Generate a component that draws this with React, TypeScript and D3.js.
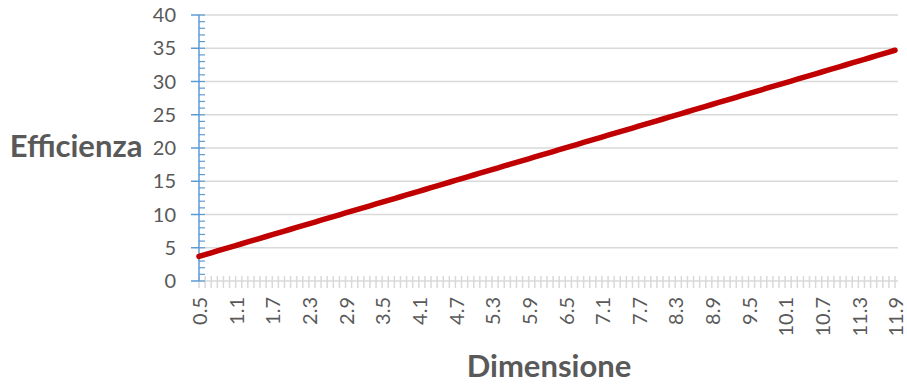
import React from "react";
import * as d3 from "d3";

const categories: string[] = [
  "0.5","0.6","0.7","0.8","0.9","1.0","1.1","1.2","1.3","1.4","1.5","1.6","1.7","1.8","1.9","2.0",
  "2.1","2.2","2.3","2.4","2.5","2.6","2.7","2.8","2.9","3.0","3.1","3.2","3.3","3.4","3.5","3.6",
  "3.7","3.8","3.9","4.0","4.1","4.2","4.3","4.4","4.5","4.6","4.7","4.8","4.9","5.0","5.1","5.2",
  "5.3","5.4","5.5","5.6","5.7","5.8","5.9","6.0","6.1","6.2","6.3","6.4","6.5","6.6","6.7","6.8",
  "6.9","7.0","7.1","7.2","7.3","7.4","7.5","7.6","7.7","7.8","7.9","8.0","8.1","8.2","8.3","8.4",
  "8.5","8.6","8.7","8.8","8.9","9.0","9.1","9.2","9.3","9.4","9.5","9.6","9.7","9.8","9.9","10.0",
  "10.1","10.2","10.3","10.4","10.5","10.6","10.7","10.8","10.9","11.0","11.1","11.2","11.3","11.4",
  "11.5","11.6","11.7","11.8","11.9"
];

const efficienza: number[] = [
  3.70,3.97,4.24,4.52,4.79,5.06,5.33,5.60,5.88,6.15,6.42,6.69,6.96,7.23,7.51,7.78,
  8.05,8.32,8.59,8.87,9.14,9.41,9.68,9.95,10.23,10.50,10.77,11.04,11.31,11.59,11.86,12.13,
  12.40,12.67,12.94,13.22,13.49,13.76,14.03,14.30,14.58,14.85,15.12,15.39,15.66,15.94,16.21,16.48,
  16.75,17.02,17.30,17.57,17.84,18.11,18.38,18.65,18.93,19.20,19.47,19.74,20.01,20.29,20.56,20.83,
  21.10,21.37,21.65,21.92,22.19,22.46,22.73,23.00,23.28,23.55,23.82,24.09,24.36,24.64,24.91,25.18,
  25.45,25.72,26.00,26.27,26.54,26.81,27.08,27.35,27.63,27.90,28.17,28.44,28.71,28.99,29.26,29.53,
  29.80,30.07,30.35,30.62,30.89,31.16,31.43,31.71,31.98,32.25,32.52,32.79,33.06,33.34,
  33.61,33.88,34.15,34.42,34.70
];

const xTickLabels: string[] = [
  "0.5","1.1","1.7","2.3","2.9","3.5","4.1","4.7","5.3","5.9","6.5","7.1","7.7","8.3","8.9","9.5",
  "10.1","10.7","11.3","11.9"
];

const yTicks: number[] = [0, 5, 10, 15, 20, 25, 30, 35, 40];
const yMinorTicks: number[] = d3.range(0, 41, 1);

const W = 907;
const H = 386;
const FONT = "Lato, 'Open Sans', sans-serif";

export default function App() {
  const x = d3.scalePoint<string>().domain(categories).range([199, 895]);
  const y = d3.scaleLinear().domain([0, 40]).range([281, 15]);
  const line = d3
    .line<number>()
    .x((_, i) => x(categories[i]) as number)
    .y((d) => y(d));

  return (
    <svg
      width={W}
      height={H}
      style={{ position: "absolute", left: 0, top: 0, background: "#fff" }}
    >
      {yTicks.map((t) => (
        <line key={"g" + t} x1={199} x2={898} y1={y(t)} y2={y(t)} stroke="#d9d9d9" strokeWidth={1.5} />
      ))}
      {categories.map((c) => (
        <line
          key={"xt" + c}
          x1={x(c) as number}
          x2={x(c) as number}
          y1={276}
          y2={288}
          stroke="#d9d9d9"
          strokeWidth={1.5}
        />
      ))}
      <line x1={199} x2={199} y1={y(40)} y2={y(0)} stroke="#5b9bd5" strokeWidth={1.5} />
      {yMinorTicks.map((t) => (
        <line key={"ym" + t} x1={199} x2={205} y1={y(t)} y2={y(t)} stroke="#5b9bd5" strokeWidth={1.2} />
      ))}
      {yTicks.map((t) => (
        <line key={"yM" + t} x1={191} x2={199} y1={y(t)} y2={y(t)} stroke="#5b9bd5" strokeWidth={1.5} />
      ))}
      {yTicks.map((t) => (
        <text
          key={"yl" + t}
          x={176}
          y={y(t)}
          dy="0.36em"
          textAnchor="end"
          fontFamily={FONT}
          fontSize={20}
          fill="#595959"
        >
          {t}
        </text>
      ))}
      {xTickLabels.map((l) => (
        <text
          key={"xl" + l}
          transform={`translate(${(x(l) as number) + 1},${297}) rotate(-90)`}
          dy="0.36em"
          textAnchor="end"
          fontFamily={FONT}
          fontSize={20}
          fill="#595959"
        >
          {l}
        </text>
      ))}
      <path
        d={line(efficienza) || ""}
        fill="none"
        stroke="#c00000"
        strokeWidth={5.5}
        strokeLinecap="round"
        strokeLinejoin="round"
      />
      <text x={76} y={157} textAnchor="middle" fontFamily={FONT} fontSize={31} fontWeight="bold" fill="#595959">
        Efficienza
      </text>
      <text x={549} y={377} textAnchor="middle" fontFamily={FONT} fontSize={31} fontWeight="bold" fill="#595959">
        Dimensione
      </text>
    </svg>
  );
}
